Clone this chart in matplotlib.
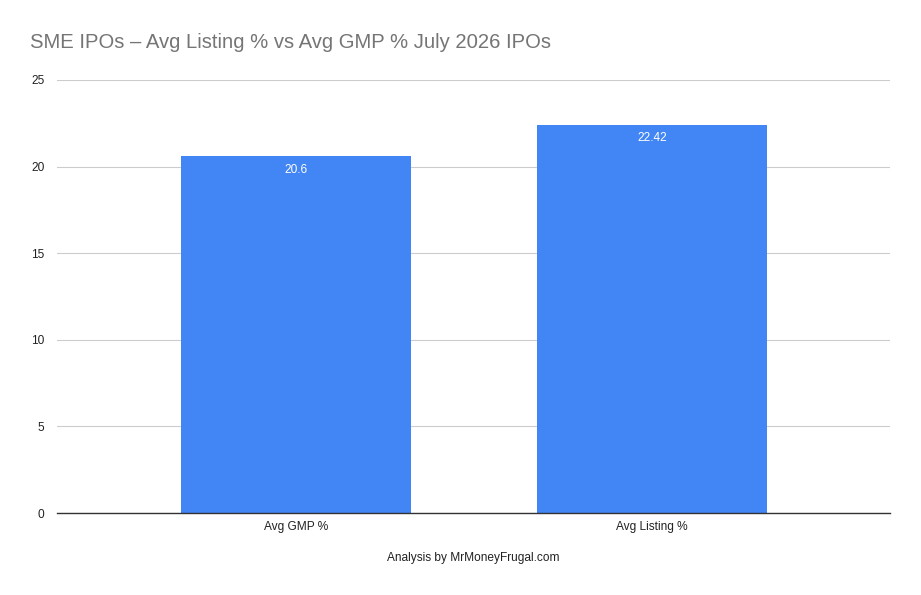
import numpy as np
import matplotlib.pyplot as plt

plt.rcParams['font.family'] = ['Liberation Sans', 'DejaVu Sans']

categories = ['Avg GMP %', 'Avg Listing %']
values = [20.6, 22.42]
value_labels = ['20.6', '22.42']
yticks = [0, 5, 10, 15, 20, 25]

fig = plt.figure(figsize=(9.21, 5.95), dpi=100)
ax = fig.add_axes([57 / 921, 1 - 513 / 595, (890 - 57) / 921, (513 - 80) / 595])

x = np.arange(len(categories))
bars = ax.bar(x, values, width=0.646, color='#4285F4', zorder=3)

for b, lab in zip(bars, value_labels):
    ax.text(b.get_x() + b.get_width() / 2, b.get_height() - 0.45, lab,
            ha='center', va='top', color='white', fontsize=8.6, zorder=4)

ax.set_xlim(-0.671, 1.669)
ax.set_ylim(0, 25)
ax.set_yticks(yticks)
ax.set_xticks(x)
ax.set_xticklabels(categories, fontsize=8.6, color='#222222')
ax.tick_params(axis='y', length=0, pad=9, labelsize=8.6, labelcolor='#222222')
ax.tick_params(axis='x', length=0, pad=6)
ax.grid(axis='y', color='#cccccc', linewidth=0.8, zorder=0)
for s in ['top', 'right', 'left']:
    ax.spines[s].set_visible(False)
ax.spines['bottom'].set_color('#333333')
ax.spines['bottom'].set_linewidth(1)
ax.spines['bottom'].set_zorder(5)

fig.text(30 / 921, 1 - 43 / 595, 'SME IPOs – Avg Listing % vs Avg GMP % July 2026 IPOs',
         fontsize=14.6, color='#757575', ha='left', va='center')
fig.text(473.5 / 921, 1 - 558 / 595, 'Analysis by MrMoneyFrugal.com',
         fontsize=8.6, color='#222222', ha='center', va='center')

fig.savefig('out.png', dpi=100)
